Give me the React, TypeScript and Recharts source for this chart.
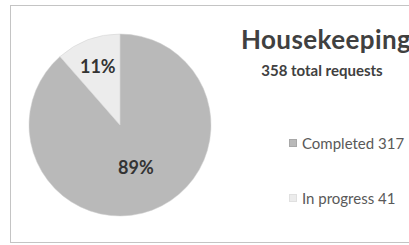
import { Cell, Legend, Pie, PieChart } from "recharts";

const categories = ["Completed", "In progress"];
const counts = [317, 41];
const percentLabels = ["89%", "11%"];
const title = "Housekeeping";
const subtitle = "358 total requests";

const COLORS = ["#b9b9b9", "#ececec"];
const FONT = "Lato, 'Open Sans', sans-serif";

const data = categories.map((name, i) => ({
	name,
	value: counts[i],
	label: percentLabels[i],
}));

// Excel "best fit" puts the two labels at different distances
const LABEL_RADIUS = [45, 63];

function renderLabel(props: any) {
	const { cx, cy, midAngle, index } = props;
	const RAD = Math.PI / 180;
	const r = LABEL_RADIUS[index];
	const x = cx + r * Math.cos(-midAngle * RAD);
	const y = cy + r * Math.sin(-midAngle * RAD);
	return (
		<text
			x={x}
			y={y}
			textAnchor="middle"
			dominantBaseline="central"
			fill="#333"
			fontFamily={FONT}
			fontWeight={700}
			fontSize={18}
		>
			{data[index].label}
		</text>
	);
}

function LegendContent() {
	return (
		<div style={{ fontFamily: FONT, fontSize: 15, color: "#595959" }}>
			{data.map((d, i) => (
				<div
					key={d.name}
					style={{
						display: "flex",
						alignItems: "center",
						height: 18,
						marginBottom: i === 0 ? 37 : 0,
						whiteSpace: "nowrap",
					}}
				>
					<span
						style={{
							display: "inline-block",
							width: 6,
							height: 6,
							background: COLORS[i],
							border: "1px solid " + (i === 0 ? "#a8a8a8" : "#e0e0e0"),
							marginRight: 5,
						}}
					/>
					{d.name} {d.value}
				</div>
			))}
		</div>
	);
}

export default function App() {
	return (
		<div
			style={{
				position: "absolute",
				left: 0,
				top: 0,
				width: 409,
				height: 245,
				overflow: "hidden",
				background: "#fff",
			}}
		>
			<div
				style={{
					position: "absolute",
					left: 10,
					top: 5,
					width: 500,
					height: 236,
					border: "1px solid #c4c4c4",
				}}
			/>
			<PieChart width={409} height={245} style={{ position: "absolute", left: 0, top: 0 }}>
				<Pie
					data={data}
					dataKey="value"
					nameKey="name"
					cx={115}
					cy={120}
					outerRadius={91}
					startAngle={90}
					endAngle={-270}
					stroke="#d0d0d0"
					strokeWidth={0.5}
					label={renderLabel}
					labelLine={false}
					isAnimationActive={false}
				>
					{data.map((d, i) => (
						<Cell key={d.name} fill={COLORS[i]} />
					))}
				</Pie>
				<Legend
					content={<LegendContent />}
					wrapperStyle={{ position: "absolute", left: 289, top: 134, width: 140 }}
				/>
			</PieChart>
			<div
				style={{
					position: "absolute",
					left: 241,
					top: 23,
					fontFamily: FONT,
					fontWeight: 700,
					fontSize: 26,
					letterSpacing: 0.4,
					color: "#404040",
					whiteSpace: "nowrap",
				}}
			>
				{title}
			</div>
			<div
				style={{
					position: "absolute",
					left: 250,
					top: 61,
					width: 144,
					textAlign: "center",
					fontFamily: FONT,
					fontWeight: 700,
					fontSize: 15,
					color: "#404040",
					whiteSpace: "nowrap",
				}}
			>
				{subtitle}
			</div>
		</div>
	);
}
